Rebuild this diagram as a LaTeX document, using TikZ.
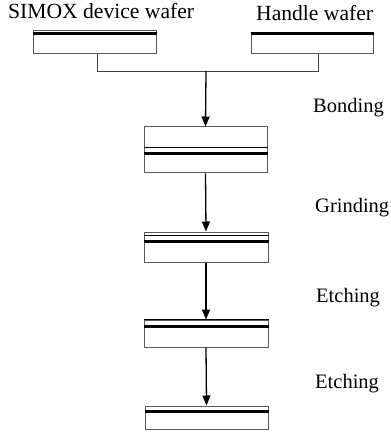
\documentclass[tikz,border=0pt]{standalone}
\usepackage{fontspec}
\setmainfont{Liberation Serif}
\usetikzlibrary{arrows.meta}
\begin{document}
\begin{tikzpicture}[x=1pt,y=-1pt,
  wafer/.style={draw=black!65,line width=1pt,rectangle,inner sep=0pt,fill=white},
  oxide/.style={line width=3pt,black},
  film/.style={line width=1.8pt,black},
  link/.style={draw=black!75,line width=0.9pt},
  flow/.style={draw=black,line width=1.3pt,-{Triangle[width=8pt,length=10pt]}},
  lbl/.style={font=\fontsize{20.5}{24}\selectfont,inner sep=0pt},
  head/.style={font=\fontsize{21.6}{25}\selectfont,inner sep=0pt}]
\useasboundingbox (0,0) rectangle (390,435);

% starting wafers
\node[wafer,minimum width=123pt,minimum height=23pt] (w1) at (94.5,42.5) {};
\draw[oxide] ([yshift=-3pt]w1.north west) -- ([yshift=-3pt]w1.north east);
\node[wafer,minimum width=122pt,minimum height=20pt] (w2) at (312,44) {};
\draw[oxide] (w2.north west) -- (w2.north east);

\node[head,anchor=base west] (l1) at (8,19) {SIMOX device wafer};
\node[head,anchor=base west] (l2) at (256,21) {Handle wafer};

% joining bracket
\coordinate (j) at (206,71);
\draw[link] ([xshift=2.5pt]w1.south) |- (j);
\draw[link] ([xshift=6pt]w2.south) |- (j);

% bonded pair
\node[wafer,minimum width=123pt,minimum height=46pt] (b2) at (205.5,150) {};
\draw[film] ([yshift=-21pt]b2.north west) -- ([yshift=-21pt]b2.north east);
\draw[oxide] ([yshift=-27pt]b2.north west) -- ([yshift=-27pt]b2.north east);

% after grinding
\node[wafer,minimum width=124pt,minimum height=30pt] (b3) at (206,247) {};
\draw[film] ([yshift=-4pt]b3.north west) -- ([yshift=-4pt]b3.north east);
\draw[oxide] ([yshift=-10pt]b3.north west) -- ([yshift=-10pt]b3.north east);

% after first etching
\node[wafer,minimum width=124pt,minimum height=27pt] (b4) at (206,333.5) {};
\draw[film] (b4.north west) -- (b4.north east);
\draw[oxide] ([yshift=-7pt]b4.north west) -- ([yshift=-7pt]b4.north east);

% after second etching
\node[wafer,minimum width=123pt,minimum height=23pt] (b5) at (206.5,417.5) {};
\draw[oxide] ([yshift=-6pt]b5.north west) -- ([yshift=-6pt]b5.north east);

% process flow
\draw[flow] (j) -- (b2.north);
\draw[flow] (b2.south) -- (b3.north);
\draw[flow] (b3.south) -- (b4.north);
\draw[flow] (b4.south) -- (b5.north);

% step names
\node[lbl,anchor=base west] (s1) at (313,113) {Bonding};
\node[lbl,anchor=base west] (s2) at (315,212) {Grinding};
\node[lbl,anchor=base west] (s3) at (316,302) {Etching};
\node[lbl,anchor=base west] (s4) at (315,388) {Etching};
\end{tikzpicture}
\end{document}
